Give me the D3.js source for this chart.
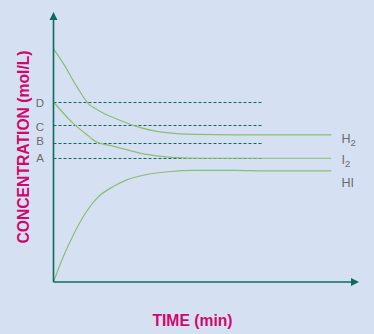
<!DOCTYPE html>
<html>
<head>
<meta charset="utf-8">
<script src="https://cdn.jsdelivr.net/npm/d3@7"></script>
<style>
    body { margin: 0; background: #d5e1f3; }
    svg { display: block; }
    text { font-family: "Liberation Sans", Arial, sans-serif; }
</style>
</head>
<body>
<div id="chart"></div>
<script>
// concentrations (time in min, conc in mol/L)
var timeH2 = [0, 0.34, 0.85, 1.31, 1.49, 1.93, 2.21, 2.93, 3.9, 5.1, 6.54, 10];
var concH2 = [0.518, 0.487, 0.433, 0.393, 0.386, 0.371, 0.364, 0.347, 0.333, 0.328, 0.327, 0.327];
var timeI2 = [0, 0.7, 1.31, 1.49, 2.21, 3.29, 4.26, 5.46, 10];
var concI2 = [0.4, 0.353, 0.322, 0.313, 0.301, 0.284, 0.277, 0.275, 0.275];
var timeHI = [0, 0.35, 0.71, 1.07, 1.56, 2.15, 2.64, 3.29, 4.12, 5.1, 6.54, 7.62, 10];
var concHI = [0, 0.056, 0.104, 0.145, 0.186, 0.212, 0.227, 0.238, 0.245, 0.248, 0.248, 0.247, 0.247];
var seriesNames = ["H2", "I2", "HI"];
var levelLabels = ["D", "C", "B", "A"];
var levelValues = [0.4, 0.349, 0.308, 0.275];
var levelEnd = 7.5;

makePlot();

function makePlot() {
    var svgWidth = 374;
    var svgHeight = 334;
    var svg = d3.select("#chart")
        .append("svg")
        .attr("width", svgWidth)
        .attr("height", svgHeight);

    var axisColor = "#0d6b5b";
    var lineColor = "#8dbd70";
    var labelColor = "#6b6b6b";
    var titleColor = "#d0086c";

    // scales
    var xScale = d3.scaleLinear().domain([0, 11]).range([53.5, 359]);
    var yScale = d3.scaleLinear().domain([0, 0.6]).range([282, 12]);

    // dashed reference levels (snapped to the pixel grid so they stay crisp)
    var levelDy = [5, 5.7, 1.4, 3.7];
    levelValues.forEach(function(v, i) {
        var ly = Math.round(yScale(v)) + 0.5;
        svg.append("line")
            .attr("x1", xScale(0)).attr("x2", xScale(levelEnd))
            .attr("y1", ly).attr("y2", ly)
            .attr("stroke", axisColor)
            .attr("stroke-width", 1.1)
            .attr("stroke-dasharray", "3,2");
        svg.append("text")
            .attr("x", 40)
            .attr("y", yScale(v) + levelDy[i])
            .attr("text-anchor", "middle")
            .attr("font-size", "11.5px")
            .attr("fill", labelColor)
            .text(levelLabels[i]);
    });

    // curves
    var series = [
        { name: seriesNames[0], t: timeH2, c: concH2 },
        { name: seriesNames[1], t: timeI2, c: concI2 },
        { name: seriesNames[2], t: timeHI, c: concHI }
    ];
    var lineGen = d3.line()
        .x(d => xScale(d[0]))
        .y(d => yScale(d[1]))
        .curve(d3.curveMonotoneX);
    var nameDy = [7.7, 5.7, 15.7];
    series.forEach(function(s, i) {
        var pts = s.t.map((t, j) => [t, s.c[j]]);
        svg.append("path")
            .attr("d", lineGen(pts))
            .attr("fill", "none")
            .attr("stroke", lineColor)
            .attr("stroke-width", 1.2);
        var last = pts[pts.length - 1];
        var label = svg.append("text")
            .attr("x", 341.5)
            .attr("y", yScale(last[1]) + nameDy[i])
            .attr("font-size", "12.5px")
            .attr("fill", labelColor);
        var m = s.name.match(/^([A-Za-z]+)(\d*)$/);
        label.append("tspan").text(m[1]);
        if (m[2]) {
            label.append("tspan")
                .attr("font-size", "9.5px")
                .attr("dy", 3)
                .text(m[2]);
        }
    });

    // axes with arrow heads
    var x0 = xScale(0), y0 = yScale(0);
    svg.append("line")
        .attr("x1", x0).attr("x2", x0)
        .attr("y1", y0).attr("y2", 18)
        .attr("stroke", axisColor).attr("stroke-width", 1.6);
    svg.append("line")
        .attr("x1", x0).attr("x2", 352)
        .attr("y1", y0).attr("y2", y0)
        .attr("stroke", axisColor).attr("stroke-width", 1.6);
    svg.append("path")
        .attr("d", `M${x0},12 L${x0 + 4},20 L${x0 - 4},20 Z`)
        .attr("fill", axisColor);
    svg.append("path")
        .attr("d", `M359,${y0} L351,${y0 - 4} L351,${y0 + 4} Z`)
        .attr("fill", axisColor);

    // titles
    svg.append("text")
        .attr("transform", "translate(28.5,147) rotate(-90)")
        .attr("text-anchor", "middle")
        .attr("font-size", "15.7px")
        .attr("font-weight", "bold")
        .attr("fill", titleColor)
        .text("CONCENTRATION (mol/L)");
    svg.append("text")
        .attr("x", 192.5)
        .attr("y", 326)
        .attr("text-anchor", "middle")
        .attr("font-size", "15.7px")
        .attr("font-weight", "bold")
        .attr("fill", titleColor)
        .text("TIME (min)");
}
</script>
</body>
</html>
